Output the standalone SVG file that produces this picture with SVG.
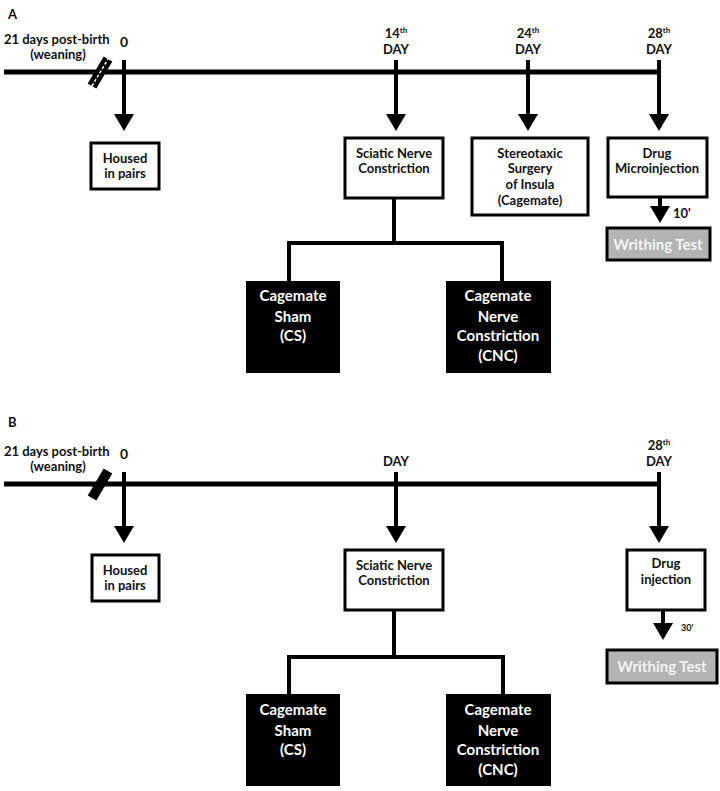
<svg xmlns="http://www.w3.org/2000/svg" width="720" height="791" viewBox="0 0 720 791">
<defs>
<marker id="ah" markerUnits="userSpaceOnUse" markerWidth="20" markerHeight="20" refX="2" refY="10" orient="auto">
<path d="M0,0 L17,10 L0,20 z" fill="#000"/>
</marker>
<style>
text{font-family:Lato,"Open Sans","Liberation Sans",sans-serif;font-weight:bold;fill:#111;}
.c{text-anchor:middle;font-size:13px;}
.w{fill:#fff;font-size:15px;text-anchor:middle;}
.lbl{font-size:13px;}
.box{fill:#fff;stroke:#000;stroke-width:3;}
.blk{fill:#000;stroke:#000;stroke-width:2;}
.wt{fill:#b4b4b4;stroke:#000;stroke-width:3;}
.wtt{fill:#f2f2f2;font-size:15px;text-anchor:middle;}
.tl{stroke:#000;stroke-width:5;fill:none;}
.ar{stroke:#000;stroke-width:4;fill:none;marker-end:url(#ah);}
.ln{stroke:#000;stroke-width:4;fill:none;}
.sup{font-size:8px;}
</style>
</defs>
<rect width="720" height="791" fill="#fff"/>

<!-- Panel A -->
<g id="panelA-labels">
<text x="8" y="19" class="lbl">A</text>
<text x="4" y="44" class="lbl">21 days post-birth</text>
<text x="58" y="59" class="c">(weaning)</text>
<text x="124" y="47" class="c" style="font-size:14px">0</text>
<text x="396" y="38" class="c">14<tspan class="sup" dy="-5">th</tspan></text>
<text x="396" y="54" class="c">DAY</text>
<text x="528" y="38" class="c">24<tspan class="sup" dy="-5">th</tspan></text>
<text x="528" y="54" class="c">DAY</text>
<text x="659" y="38" class="c">28<tspan class="sup" dy="-5">th</tspan></text>
<text x="659" y="54" class="c">DAY</text>
<text x="673" y="218" class="lbl">10'</text>
</g>
<g id="connectorsA">
<line class="tl" x1="4" y1="72" x2="661" y2="72"/>
<line x1="92" y1="86" x2="108" y2="59" stroke="#000" stroke-width="10"/>
<line x1="92" y1="86" x2="108" y2="59" stroke="#fff" stroke-width="1.5" stroke-dasharray="3,2"/>
<line class="ar" x1="124" y1="60" x2="124" y2="116"/>
<line class="ar" x1="396" y1="60" x2="396" y2="116"/>
<line class="ar" x1="528" y1="60" x2="528" y2="116"/>
<line class="ar" x1="659" y1="60" x2="659" y2="116"/>
<line class="ar" x1="660" y1="197" x2="660" y2="208"/>
<polyline class="ln" points="394,198 394,243"/>
<polyline class="ln" points="289,282 289,243 502,243 502,282"/>
</g>
<g id="A-housed">
<rect class="box" x="91" y="143" width="68" height="46"/>
<text x="125" y="163" class="c">Housed</text>
<text x="125" y="178" class="c">in pairs</text>
</g>
<g id="A-sciatic">
<rect class="box" x="345" y="138" width="98" height="60"/>
<text x="394" y="158" class="c">Sciatic Nerve</text>
<text x="394" y="173" class="c">Constriction</text>
</g>
<g id="A-stereotaxic">
<rect class="box" x="472" y="138" width="116" height="77"/>
<text x="530" y="158" class="c">Stereotaxic</text>
<text x="530" y="173" class="c">Surgery</text>
<text x="530" y="189" class="c">of Insula</text>
<text x="530" y="205" class="c">(Cagemate)</text>
</g>
<g id="A-drug">
<rect class="box" x="608" y="138" width="99" height="59"/>
<text x="657" y="158" class="c">Drug</text>
<text x="657" y="173" class="c">Microinjection</text>
</g>
<g id="A-writhing">
<rect class="wt" x="607" y="228" width="103" height="32"/>
<text x="658" y="250" class="wtt">Writhing Test</text>
</g>
<g id="A-cs">
<rect class="blk" x="247" y="282" width="92" height="90"/>
<text x="293" y="301" class="w">Cagemate</text>
<text x="293" y="322" class="w">Sham</text>
<text x="293" y="341" class="w">(CS)</text>
</g>
<g id="A-cnc">
<rect class="blk" x="447" y="282" width="103" height="90"/>
<text x="498" y="301" class="w">Cagemate</text>
<text x="498" y="322" class="w">Nerve</text>
<text x="498" y="341" class="w">Constriction</text>
<text x="498" y="361" class="w">(CNC)</text>
</g>

<!-- Panel B -->
<g id="panelB-labels">
<text x="8" y="427" class="lbl">B</text>
<text x="4" y="456" class="lbl">21 days post-birth</text>
<text x="58" y="471" class="c">(weaning)</text>
<text x="124" y="459" class="c" style="font-size:14px">0</text>
<text x="396" y="466" class="c">DAY</text>
<text x="659" y="450" class="c">28<tspan class="sup" dy="-5">th</tspan></text>
<text x="659" y="466" class="c">DAY</text>
<text x="681" y="631" style="font-size:9px;">30'</text>
</g>
<g id="connectorsB">
<line class="tl" x1="4" y1="484" x2="661" y2="484"/>
<line x1="92" y1="498" x2="108" y2="471" stroke="#000" stroke-width="10"/>
<line class="ar" x1="124" y1="472" x2="124" y2="528"/>
<line class="ar" x1="396" y1="472" x2="396" y2="528"/>
<line class="ar" x1="659" y1="472" x2="659" y2="528"/>
<line class="ar" x1="663" y1="610" x2="663" y2="625"/>
<polyline class="ln" points="394,610 394,657"/>
<polyline class="ln" points="289,695 289,657 503,657 503,695"/>
</g>
<g id="B-housed">
<rect class="box" x="92" y="555" width="67" height="46"/>
<text x="125" y="575" class="c">Housed</text>
<text x="125" y="590" class="c">in pairs</text>
</g>
<g id="B-sciatic">
<rect class="box" x="345" y="550" width="98" height="60"/>
<text x="394" y="570" class="c">Sciatic Nerve</text>
<text x="394" y="585" class="c">Constriction</text>
</g>
<g id="B-drug">
<rect class="box" x="627" y="550" width="78" height="60"/>
<text x="666" y="568" class="c">Drug</text>
<text x="666" y="584" class="c">injection</text>
</g>
<g id="B-writhing">
<rect class="wt" x="607" y="650" width="110" height="33"/>
<text x="662" y="672" class="wtt">Writhing Test</text>
</g>
<g id="B-cs">
<rect class="blk" x="247" y="695" width="92" height="90"/>
<text x="293" y="715" class="w">Cagemate</text>
<text x="293" y="736" class="w">Sham</text>
<text x="293" y="755" class="w">(CS)</text>
</g>
<g id="B-cnc">
<rect class="blk" x="447" y="695" width="103" height="90"/>
<text x="498" y="715" class="w">Cagemate</text>
<text x="498" y="736" class="w">Nerve</text>
<text x="498" y="755" class="w">Constriction</text>
<text x="498" y="775" class="w">(CNC)</text>
</g>
</svg>
